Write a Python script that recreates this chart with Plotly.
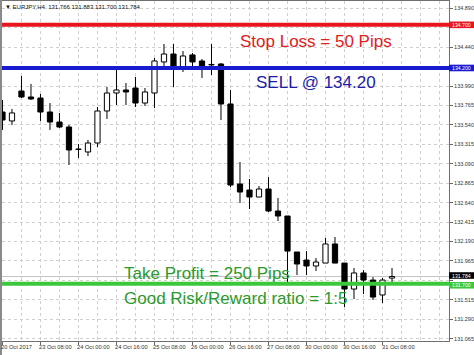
import plotly.graph_objects as go

# ---- data (EURJPY H4) ----
candle_idx = list(range(42))
opens = [133.690, 133.586, 133.933, 133.864, 133.852, 133.690, 133.574, 133.516, 133.261, 133.227,
         133.331, 133.702, 133.910, 133.945, 133.968, 133.794, 133.910, 134.270, 134.362, 134.200,
         134.351, 134.281, 134.235, 134.246, 133.783, 132.856, 132.786, 132.705, 132.798, 132.543,
         132.485, 132.068, 131.975, 131.906, 131.940, 132.161, 131.940, 131.639, 131.825, 131.743,
         131.570, 131.766]
highs = [133.829, 133.725, 134.107, 134.015, 133.899, 133.794, 133.679, 133.540, 133.319, 133.366,
         133.748, 133.980, 134.188, 134.026, 134.096, 133.968, 134.316, 134.478, 134.478, 134.397,
         134.374, 134.304, 134.478, 134.258, 133.945, 133.111, 132.914, 132.833, 132.937, 132.694,
         132.485, 132.068, 132.079, 131.998, 132.230, 132.242, 131.940, 131.882, 131.859, 131.778,
         131.767, 131.883]
lows = [133.482, 133.540, 133.852, 133.829, 133.586, 133.482, 133.505, 133.076, 133.157, 133.180,
        133.285, 133.609, 133.771, 133.771, 133.748, 133.760, 133.736, 134.212, 133.980, 134.154,
        134.212, 134.084, 134.119, 133.597, 132.821, 132.636, 132.566, 132.705, 132.531, 132.427,
        131.720, 131.801, 131.801, 131.848, 131.940, 131.940, 131.431, 131.523, 131.581, 131.512,
        131.477, 131.700]
closes = [133.597, 133.679, 133.864, 133.841, 133.690, 133.574, 133.516, 133.250, 133.256, 133.331,
          133.702, 133.910, 133.945, 133.922, 133.794, 133.922, 134.281, 134.362, 134.212, 134.339,
          134.270, 134.223, 134.241, 133.783, 132.844, 132.763, 132.705, 132.798, 132.543, 132.485,
          132.079, 131.929, 131.906, 131.952, 132.161, 131.940, 131.639, 131.825, 131.743, 131.546,
          131.743, 131.784]

x_label_idx = [0, 4, 8, 12, 16, 20, 24, 28, 32, 36, 40]
x_labels = ["20 Oct 2017", "23 Oct 08:00", "24 Oct 00:00", "24 Oct 16:00", "25 Oct 08:00",
            "26 Oct 00:00", "26 Oct 16:00", "27 Oct 08:00", "30 Oct 00:00", "30 Oct 16:00",
            "31 Oct 08:00"]
y_ticks = [134.890, 134.665, 134.440, 134.215, 133.990, 133.765, 133.540, 133.315, 133.090,
           132.865, 132.640, 132.415, 132.190, 131.965, 131.740, 131.515, 131.290, 131.065]
# tick values whose labels are hidden under the price boxes
y_ticks_covered = [134.665, 134.215, 131.740]

stop_loss = 134.700
entry = 134.200
take_profit = 131.700
last_price = 131.784
title_text = "EURJPY,H4  131.766 131.883 131.700 131.784"

FONT = "Liberation Sans"

# ---- build candles ----
up_x, up_base, up_h = [], [], []
dn_x, dn_base, dn_h = [], [], []
wx, wy = [], []
for i, o, h, l, c in zip(candle_idx, opens, highs, lows, closes):
    top, bot = max(o, c), min(o, c)
    size = max(top - bot, 0.004)
    if c > o:
        up_x.append(i); up_base.append(bot); up_h.append(size)
    else:
        dn_x.append(i); dn_base.append(bot); dn_h.append(size)
    if h > top:
        wx += [i, i, None]; wy += [h, top, None]
    if l < bot:
        wx += [i, i, None]; wy += [bot, l, None]

fig = go.Figure()
fig.add_trace(go.Scatter(x=wx, y=wy, mode="lines", line=dict(color="black", width=1),
                         hoverinfo="skip"))
fig.add_trace(go.Bar(x=up_x, y=up_h, base=up_base, width=0.55,
                     marker=dict(color="white", line=dict(color="black", width=1))))
fig.add_trace(go.Bar(x=dn_x, y=dn_h, base=dn_base, width=0.55,
                     marker=dict(color="black", line=dict(color="black", width=1))))

grid = "#cfcfcf"
fig.update_layout(
    template="none",
    width=474, height=355,
    margin=dict(l=2, r=25, t=1, b=14),
    paper_bgcolor="white", plot_bgcolor="white",
    showlegend=False, barmode="overlay",
    font=dict(family=FONT),
    xaxis=dict(range=[-0.05, 47.0], tickvals=x_label_idx, showticklabels=False,
               ticks="outside", ticklen=3, tickcolor="#666",
               showgrid=True, gridcolor=grid, griddash="dot", gridwidth=1,
               minor=dict(tick0=0, dtick=2, showgrid=True, gridcolor=grid, griddash="dot"),
               showline=True, linecolor="#707070", linewidth=1, mirror=True,
               zeroline=False, automargin=False, fixedrange=True),
    yaxis=dict(range=[131.037, 134.976], side="right", tickvals=y_ticks,
               ticktext=["" if v in y_ticks_covered else f"{v:.3f}" for v in y_ticks],
               ticks="outside", ticklen=3, tickcolor="#666",
               tickfont=dict(size=5.5, color="#333", family=FONT),
               showgrid=True, gridcolor=grid, griddash="dot", gridwidth=1,
               showline=True, linecolor="#707070", linewidth=1,
               zeroline=False, automargin=False, fixedrange=True),
)

# left frame
fig.add_shape(type="rect", xref="paper", yref="paper", x0=-2/447, x1=0, y0=-14/340, y1=1 + 1/340,
              fillcolor="#8a8a8a", line=dict(width=0), layer="above")

# bid line
fig.add_shape(type="line", xref="paper", yref="y", x0=0, x1=1, y0=last_price, y1=last_price,
              line=dict(color="#c4c4c4", width=1), layer="below")

# level lines
for val, col in [(stop_loss, "#e8161c"), (entry, "#1a1ad0"), (take_profit, "#3cc83c")]:
    fig.add_shape(type="line", xref="paper", yref="y", x0=0, x1=1, y0=val, y1=val,
                  line=dict(color=col, width=4), layer="above")

# right price boxes (pixel nudge keeps the two bottom boxes apart)
px = 1 / 86.3
half = 3.3 * px
for val, col, nudge in [(stop_loss, "#e8161c", 0), (entry, "#1a1ad0", 0),
                        (last_price, "#000000", 1), (take_profit, "#3cc83c", -1.5)]:
    yc = val + nudge * px
    fig.add_shape(type="rect", xref="paper", yref="y", x0=1, x1=1 + 25/447,
                  y0=yc - half, y1=yc + half, fillcolor=col, line=dict(width=0), layer="above")
    fig.add_annotation(x=1, xref="paper", y=yc, yref="y", xanchor="left", yanchor="middle",
                       xshift=2, text=f"{val:.3f}", showarrow=False,
                       font=dict(size=5.2, color="white", family=FONT), borderpad=0)

# x tick labels (left-aligned at tick)
for i, lab in zip(x_label_idx, x_labels):
    fig.add_annotation(x=i, xref="x", y=0, yref="paper", xanchor="left", yanchor="top",
                       xshift=-2, yshift=-2, text=lab, showarrow=False,
                       font=dict(size=5.7, color="#333", family=FONT), borderpad=0)

# chart title
fig.add_annotation(x=0, xref="paper", y=1, yref="paper", xanchor="left", yanchor="top",
                   xshift=2, yshift=-2, text="▼ " + title_text, showarrow=False,
                   font=dict(size=6, color="#111", family=FONT), borderpad=0)

# overlay texts
fig.add_annotation(x=0.702, y=0.882, xref="paper", yref="paper", xanchor="center", yanchor="middle",
                   text="Stop Loss = 50 Pips", showarrow=False,
                   font=dict(size=17, color="#e0201c", family=FONT))
fig.add_annotation(x=0.702, y=0.759, xref="paper", yref="paper", xanchor="center", yanchor="middle",
                   text="SELL @ 134.20", showarrow=False,
                   font=dict(size=17, color="#1c1ca8", family=FONT))
fig.add_annotation(x=0.268, y=0.200, xref="paper", yref="paper", xanchor="left", yanchor="middle",
                   text="Take Profit = 250 Pips", showarrow=False,
                   font=dict(size=17, color="#2a9a2a", family=FONT))
fig.add_annotation(x=0.268, y=0.124, xref="paper", yref="paper", xanchor="left", yanchor="middle",
                   text="Good Risk/Reward ratio = 1:5", showarrow=False,
                   font=dict(size=17, color="#2a9a2a", family=FONT))

fig.write_html("out.html")
